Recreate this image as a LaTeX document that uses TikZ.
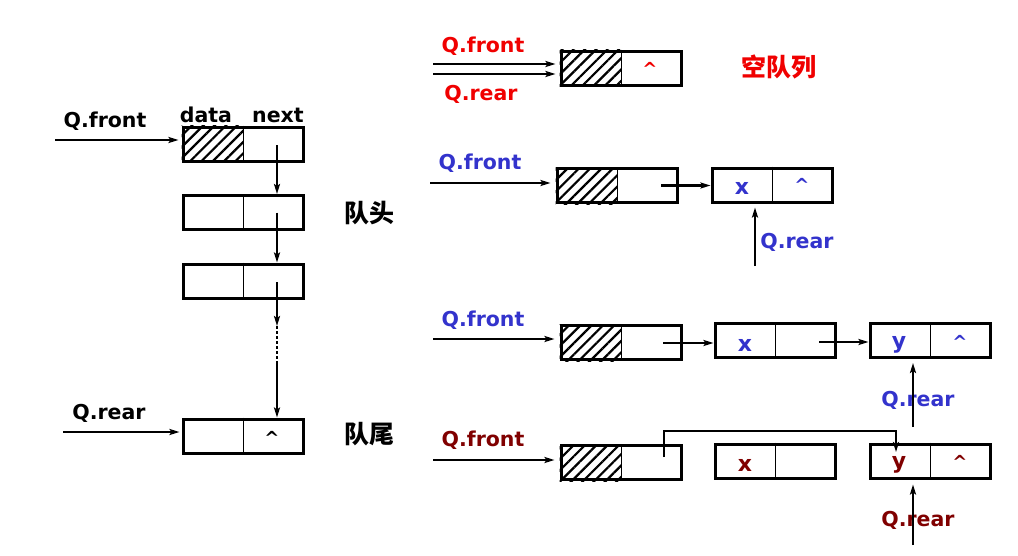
\documentclass[tikz,border=0pt]{standalone}
\usepackage{fontspec}
\setmainfont{DejaVu Sans}
\newfontfamily\cjk{Noto Sans CJK SC}
\usetikzlibrary{arrows.meta,patterns.meta,calc}
\definecolor{qred}{HTML}{F00000}
\definecolor{qblue}{HTML}{3333CC}
\definecolor{qdark}{HTML}{800000}
\tikzset{
  lbl/.style={font=\bfseries\fontsize{20.5}{20.5}\selectfont, inner sep=0pt},
  cjklbl/.style={font=\cjk\bfseries\fontsize{25}{25}\selectfont, inner sep=0pt},
  cell/.style={font=\bfseries\fontsize{22}{22}\selectfont, inner sep=0pt},
  caret/.style={font=\bfseries\fontsize{18}{18}\selectfont, inner sep=0pt},
  box/.style={draw, line width=3pt, minimum width=120pt, minimum height=34pt, inner sep=0pt},
  arr/.style={line width=2.6pt, -{Stealth[length=10pt,width=6pt,inset=2pt]}},
  hatch/.style={pattern={Lines[angle=45,distance=8pt,line width=2.2pt]}},
}
\newcommand{\qbox}[3]{% name, center, hatched?
  \node[box] (#1) at #2 {};
  \ifx#3h\fill[hatch] (#1.north west) rectangle (#1.south);\fi
  \draw[line width=1pt] (#1.north) -- (#1.south);
  \node[box] at #2 {};
}
\begin{document}
\begin{tikzpicture}[x=1pt,y=-1pt]
\useasboundingbox (0,0) rectangle (1018,555);
% ---------- left column ----------
\qbox{L1}{(243,144)}{h}
\qbox{L2}{(243,212.5)}{n}
\qbox{L3}{(243,281)}{n}
\qbox{L4}{(243,436)}{n}
\node[lbl] (data) at (206,115) {data};
\node[lbl] (next) at (278,115) {next};
\node[lbl] (lqf) at (105,121) {Q.front};
\coordinate (lqfs) at (55,140);
\draw[arr] (lqfs) -- ([xshift=-3pt]lqfs -| L1.west);
\node[lbl] (lqr) at (109,413) {Q.rear};
\coordinate (lqrs) at (63,432);
\draw[arr] (lqrs) -- ([xshift=-2pt]lqrs -| L4.west);
\node[caret] (lcar) at (272,438) {\textasciicircum};
\node[cjklbl] (head) at (369,213) {队头};
\node[cjklbl] (tail) at (369,434) {队尾};
\coordinate (p1) at ([xshift=34pt,yshift=-1pt]L1.center);
\draw[arr] (p1) -- (p1 |- L2.north);
\coordinate (p2) at ([xshift=34pt]L2.center);
\draw[arr] (p2) -- (p2 |- L3.north);
\coordinate (p3) at ([xshift=34pt,yshift=-1pt]L3.center);
\coordinate (p3a) at (277,326);
\coordinate (p3b) at (277,364);
\draw[arr] (p3) -- (p3a);
\draw[line width=2.6pt, dash pattern=on 3pt off 2pt] (p3a) -- (p3b);
\draw[arr] (p3b) -- (p3b |- L4.north);
% ---------- empty queue (red) ----------
\qbox{T}{(621,68)}{h}
\node[caret, text=qred] (tcar) at (650,69) {\textasciicircum};
\node[lbl, text=qred] (tqf) at (483,46) {Q.front};
\node[lbl, text=qred] (tqr) at (481,94) {Q.rear};
\coordinate (t1) at (433,64);
\coordinate (t2) at (433,74);
\draw[arr] (t1) -- ([xshift=-4pt]t1 -| T.west);
\draw[arr] (t2) -- ([xshift=-4pt]t2 -| T.west);
\node[cjklbl, text=qred] (empty) at (779,67) {空队列};
% ---------- one element (blue) ----------
\qbox{A2}{(617,185.5)}{h}
\qbox{B2}{(772,185)}{n}
\node[cell, text=qblue] (x2) at (742,188) {x};
\node[caret, text=qblue] (c2) at (802,185) {\textasciicircum};
\node[lbl, text=qblue] (qf2) at (480,163) {Q.front};
\coordinate (f2) at (430,183);
\draw[arr] (f2) -- ([xshift=-5pt]f2 -| A2.west);
\coordinate (n2) at ([xshift=44pt]A2.center);
\draw[arr] (n2) -- (n2 -| B2.west);
\node[lbl, text=qblue] (qr2) at (797,242) {Q.rear};
\coordinate (r2) at (755,266);
\draw[arr] (r2) -- ([yshift=-4pt]r2 |- B2.south);
% ---------- two elements (blue) ----------
\qbox{A3}{(621,342.5)}{h}
\qbox{B3}{(775,340.5)}{n}
\qbox{C3}{(930,340.5)}{n}
\node[cell, text=qblue] (x3) at (745,345) {x};
\node[cell, text=qblue] (y3) at (899,345) {y};
\node[caret, text=qblue] (c3) at (960,342) {\textasciicircum};
\node[lbl, text=qblue] (qf3) at (483,320) {Q.front};
\coordinate (f3) at (433,339);
\draw[arr] (f3) -- ([xshift=-5pt]f3 -| A3.west);
\coordinate (n3a) at (663,343);
\draw[arr] (n3a) -- (n3a -| B3.west);
\coordinate (n3b) at (819,342);
\draw[arr] (n3b) -- (n3b -| C3.west);
\node[lbl, text=qblue] (qr3) at (918,400) {Q.rear};
\coordinate (r3) at (913,427);
\draw[arr] (r3) -- ([yshift=-4pt]r3 |- C3.south);
% ---------- after dequeue (dark red) ----------
\qbox{A4}{(621,462.5)}{h}
\qbox{B4}{(775,461)}{n}
\qbox{C4}{(930,461)}{n}
\node[cell, text=qdark] (x4) at (745,465) {x};
\node[cell, text=qdark] (y4) at (899,465) {y};
\node[caret, text=qdark] (c4) at (960,462) {\textasciicircum};
\node[lbl, text=qdark] (qf4) at (483,440) {Q.front};
\coordinate (f4) at (433,460);
\draw[arr] (f4) -- ([xshift=-5pt]f4 -| A4.west);
\coordinate (n4) at (664,457);
\coordinate (m4) at (896,452);
\draw[arr] (n4) -- (n4 |- 0,431) -- (m4 |- 0,431) -- (m4);
\node[lbl, text=qdark] (qr4) at (918,520) {Q.rear};
\coordinate (r4) at (913,545);
\draw[arr] (r4) -- ([yshift=-5pt]r4 |- C4.south);
\end{tikzpicture}
\end{document}
